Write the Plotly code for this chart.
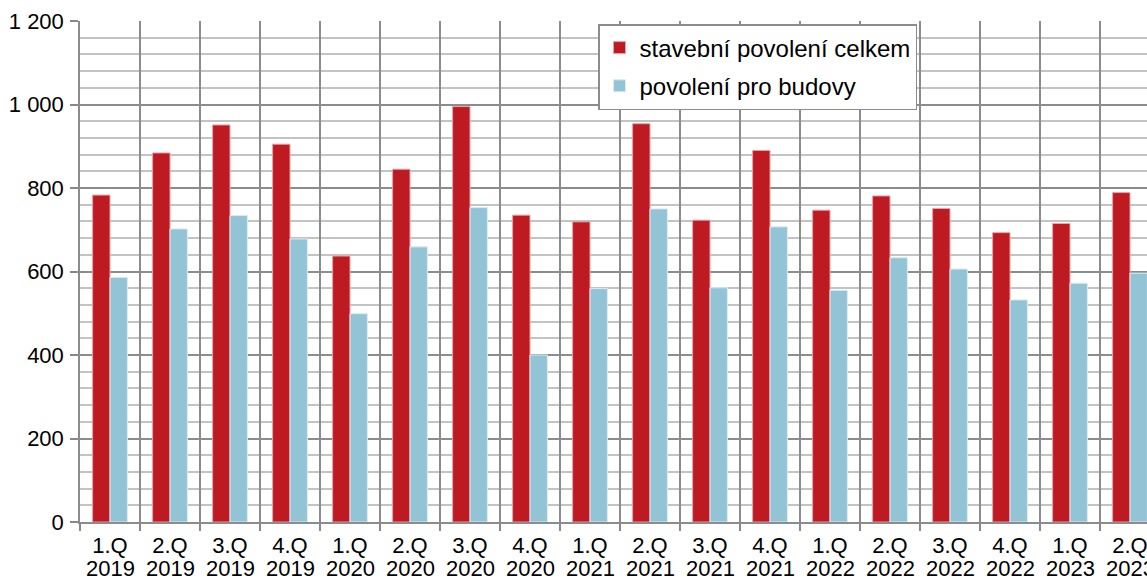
import plotly.graph_objects as go

quarters = ["1.Q", "2.Q", "3.Q", "4.Q"] * 4 + ["1.Q", "2.Q"]
years = ["2019"] * 4 + ["2020"] * 4 + ["2021"] * 4 + ["2022"] * 4 + ["2023"] * 2
categories = [f"{q} {y}" for q, y in zip(quarters, years)]

celkem = [783, 884, 951, 905, 637, 845, 995, 735, 719, 954, 723, 890,
          747, 781, 751, 693, 715, 789]
budovy = [586, 702, 734, 678, 499, 659, 753, 400, 559, 750, 561, 707,
          555, 633, 606, 532, 572, 596]

series_names = ["stavební povolení celkem", "povolení pro budovy"]
colors = ["#BE1A22", "#93C4D5"]
edge_colors = ["#E8A3A6", "#D8ECF3"]

y_tickvals = [0, 200, 400, 600, 800, 1000, 1200]
y_ticktext = ["0", "200", "400", "600", "800", "1 000", "1 200"]

FONT = "Arial, 'Liberation Sans', sans-serif"
TICK_SIZE = 22

fig = go.Figure()
for name, vals, col, ec, grp in zip(series_names, [celkem, budovy], colors, edge_colors, ["a", "b"]):
    fig.add_trace(go.Bar(
        x=categories, y=vals, name=name, legendgroup=grp,
        marker=dict(color=col, line=dict(color=ec, width=1)),
    ))

# year line beneath the quarter labels
for cat, yr in zip(categories, years):
    fig.add_annotation(
        x=cat, xref="x", y=-0.064, yref="paper", yanchor="top",
        text=yr, showarrow=False,
        font=dict(family=FONT, size=TICK_SIZE, color="black"),
    )

plot_left = 80
plot_top = 21
plot_h = 579 - 21 - 57
cat_w = 60
right_edge = (1147 - plot_left) / cat_w - 0.5

fig.update_layout(
    width=1147, height=579,
    margin=dict(l=80, r=0, t=21, b=57),
    paper_bgcolor="white", plot_bgcolor="white",
    barmode="group", bargap=0.42, bargroupgap=0,
    font=dict(family=FONT, size=TICK_SIZE, color="black"),
    showlegend=True,
    legend=dict(
        x=(598 - plot_left) / (1147 - plot_left),
        y=1 - (24 - plot_top) / plot_h, xanchor="left", yanchor="top",
        bgcolor="white", bordercolor="#8C8C8C", borderwidth=1.5,
        font=dict(family=FONT, size=24, color="black"),
        tracegroupgap=4, traceorder="grouped",
    ),
    xaxis=dict(
        type="category", range=[-0.5, right_edge],
        tickson="boundaries", ticks="outside", ticklen=7, tickcolor="#888888", tickwidth=1.5,
        showgrid=True, gridcolor="#8C8C8C", gridwidth=1.5,
        showline=True, linecolor="#8C8C8C", linewidth=1.5,
        tickvals=categories, ticktext=quarters,
        tickfont=dict(family=FONT, size=TICK_SIZE, color="black"),
        tickangle=0, ticklabelstandoff=3,
    ),
    yaxis=dict(
        range=[0, 1200], tickvals=y_tickvals, ticktext=y_ticktext,
        ticks="outside", ticklen=8, tickcolor="#888888", tickwidth=1.5,
        showgrid=True, gridcolor="#8C8C8C", gridwidth=1.5,
        showline=True, linecolor="#8C8C8C", linewidth=1.5,
        zeroline=False,
        minor=dict(dtick=40, tick0=0, showgrid=True, gridcolor="#C3C3C3", gridwidth=1.5, ticks=""),
        tickfont=dict(family=FONT, size=TICK_SIZE, color="black"),
        ticklabelstandoff=2,
    ),
)

fig.write_html(
    "out.html",
    config={"displayModeBar": False},
    post_script="document.body.style.margin='0';document.body.style.padding='0';document.body.style.overflow='hidden';",
)
